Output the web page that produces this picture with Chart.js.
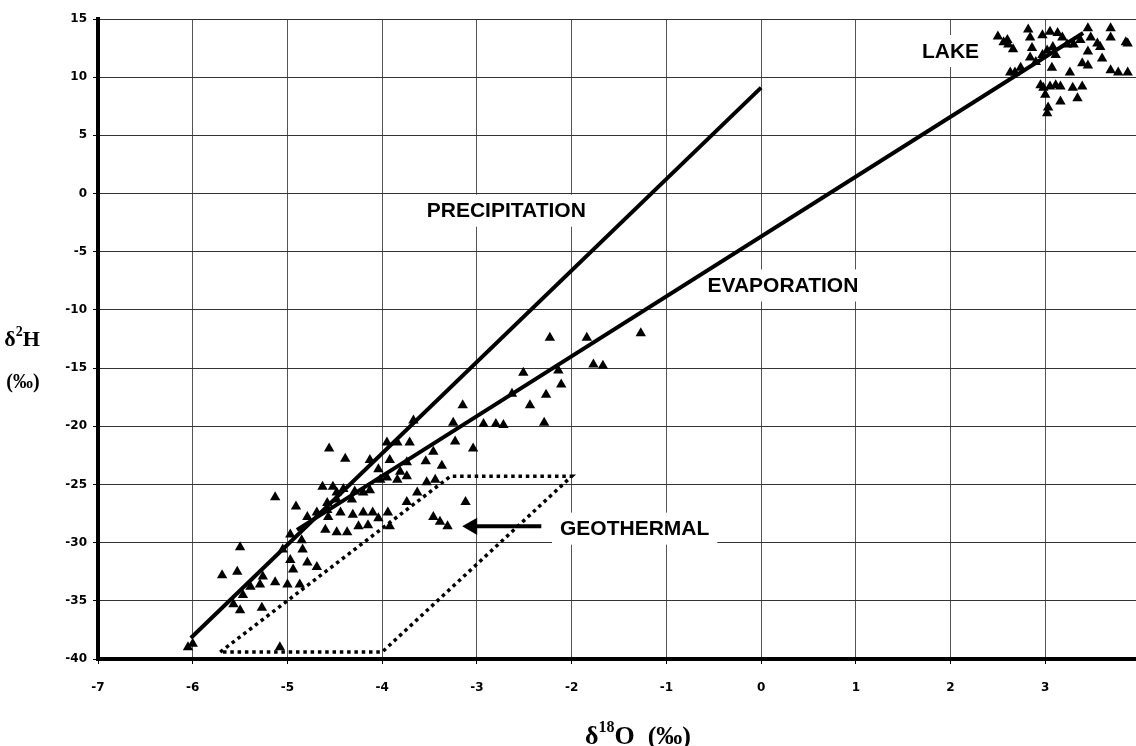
<!DOCTYPE html>
<html>
<head>
<meta charset="utf-8">
<script src="https://cdn.jsdelivr.net/npm/chart.js@4.4.1/dist/chart.umd.min.js"></script>
<style>
    html, body { margin: 0; padding: 0; background: #fff; overflow: hidden; }
    #wrap { width: 1150px; height: 746px; }
</style>
</head>
<body>
<div id="wrap"><canvas id="isotopeChart" width="1150" height="746"></canvas></div>
<script>
// groundwater / spring samples (d18O, d2H)
const sampleO18 = [
    -3.15, -3.67, -3.25, -4.56, -4.39, -3.95, -3.84, -3.71, -3.46, -3.23, -3.04, -3.54, -3.37, -3.92, -3.74,
    -3.81, -4.13, -4.04, -3.95, -4.02, -3.84, -3.74, -3.53, -3.44, -3.63, -3.74, -3.12, -4.63, -4.52, -4.41,
    -4.29, -4.20, -4.13, -4.48, -4.32, -4.79, -4.69, -4.58, -4.57, -4.44, -4.31, -4.20, -4.10, -3.94, -4.60,
    -4.48, -4.37, -4.25, -4.15, -4.04, -3.92, -3.46, -3.39, -3.31, -4.85, -5.13, -4.91, -4.58, -4.48, -4.97,
    -5.05, -4.97, -4.84, -4.94, -4.79, -4.69, -5.50, -5.53, -5.69, -5.26, -5.13, -5.39, -5.29, -5.47, -5.00,
    -4.87, -5.57, -5.50, -5.27, -6.05, -6.00, -5.08,
    -2.23, -1.84, -1.27, -2.51, -2.14, -1.77, -1.67, -2.11, -2.27, -2.63, -2.44, -2.93, -2.80, -2.72, -2.29
];
const sampleH2 = [
    -18.2, -19.5, -19.7, -21.9, -22.8, -21.4, -21.4, -21.4, -22.2, -21.3, -21.9, -23.0, -23.4, -22.9, -23.1,
    -23.9, -22.9, -23.7, -24.4, -24.6, -24.6, -24.3, -24.8, -24.6, -25.7, -26.5, -26.5, -25.2, -25.2, -25.4,
    -25.6, -25.7, -25.5, -26.3, -26.3, -27.8, -27.4, -27.2, -27.8, -27.4, -27.6, -27.4, -27.4, -27.4, -28.9,
    -29.1, -29.1, -28.6, -28.5, -27.9, -28.6, -27.8, -28.2, -28.6, -29.8, -26.1, -26.9, -26.6, -25.7, -29.3,
    -30.6, -31.5, -30.6, -32.3, -31.7, -32.1, -30.4, -32.5, -32.8, -32.9, -33.4, -33.8, -33.6, -34.5, -33.6,
    -33.6, -35.3, -35.8, -35.6, -39.0, -38.7, -39.0,
    -12.4, -12.4, -12.0, -15.4, -15.2, -14.7, -14.8, -16.4, -17.3, -17.2, -18.2, -19.8, -19.8, -19.9, -19.7
];

// lake samples
const lakeO18 = [
    2.50, 2.56, 2.61, 2.66, 2.60, 2.63, 2.68, 2.74, 2.82, 2.84, 2.86, 2.84, 2.97, 3.05, 3.13, 3.18, 3.08, 3.11,
    3.07, 3.26, 3.23, 3.30, 3.37, 3.45, 3.48, 3.55, 3.69, 3.69, 3.85, 3.87, 3.45, 3.39, 3.45, 3.60, 3.58, 3.69,
    3.77, 3.87, 2.95, 2.98, 3.05, 3.11, 3.16, 3.29, 3.39, 3.00, 3.16, 3.34, 3.03, 3.02, 2.90, 2.97, 3.02
];
const lakeH2 = [
    13.5, 13.0, 12.8, 12.4, 13.2, 10.4, 10.4, 10.8, 14.1, 13.4, 12.5, 11.7, 13.6, 13.9, 13.8, 13.4, 12.6, 11.9,
    10.8, 10.4, 12.8, 12.8, 13.2, 14.2, 13.4, 12.9, 14.2, 13.4, 13.0, 12.9, 12.2, 11.2, 11.0, 11.6, 12.6, 10.6,
    10.4, 10.4, 9.3, 9.1, 9.2, 9.3, 9.2, 9.1, 9.2, 8.5, 7.9, 8.2, 7.4, 6.9, 11.3, 11.9, 12.3
];

const precipitationO18 = [-6.02, 0];
const precipitationH2 = [-38.2, 9.1];
const evaporationO18 = [-4.9, 3.4];
const evaporationH2 = [-28.9, 13.8];
const geothermalO18 = [-5.71, -3.28, -2.0, -4.0, -5.71];
const geothermalH2 = [-39.4, -24.3, -24.3, -39.4, -39.4];
const arrowO18 = [-3.05, -2.32];
const arrowH2 = [-28.6, -28.6];

const xTicks = [-7, -6, -5, -4, -3, -2, -1, 0, 1, 2, 3, 4];
const yTicks = [-40, -35, -30, -25, -20, -15, -10, -5, 0, 5, 10, 15];

const labelTexts = ['PRECIPITATION', 'EVAPORATION', 'LAKE', 'GEOTHERMAL'];
const labelO18 = [-2.69, 0.23, 2.0, -1.335];
const labelH2 = [-1.47, -7.9, 12.25, -28.8];

const LABEL_FONT = 'bold 21px "Liberation Sans", Arial, sans-serif';
const TITLE_FONT = '"Liberation Serif", "Times New Roman", serif';

function toPoints(xs, ys) {
    return xs.map((x, i) => ({ x: x, y: ys[i] }));
}

// draws text with superscript parts, centred on cx
function drawRich(ctx, parts, cx, cy, size) {
    let total = 0;
    parts.forEach(p => {
        ctx.font = 'bold ' + (p.sup ? Math.round(size * 0.62) : size) + 'px ' + TITLE_FONT;
        p.w = ctx.measureText(p.t).width;
        total += p.w;
    });
    let x = cx - total / 2;
    ctx.textAlign = 'left';
    ctx.textBaseline = 'middle';
    parts.forEach(p => {
        ctx.font = 'bold ' + (p.sup ? Math.round(size * 0.62) : size) + 'px ' + TITLE_FONT;
        ctx.fillText(p.t, x, p.sup ? cy - size * 0.35 : cy);
        x += p.w;
    });
}

const annotationPlugin = {
    id: 'annotations',
    beforeDatasetsDraw(chart) {
        const { ctx, scales: { x, y } } = chart;
        ctx.save();
        ctx.font = LABEL_FONT;
        ctx.fillStyle = '#fff';
        labelTexts.forEach((t, i) => {
            const w = ctx.measureText(t).width;
            const px = x.getPixelForValue(labelO18[i]);
            const py = y.getPixelForValue(labelH2[i]);
            ctx.fillRect(px - w / 2 - 8, py - 16, w + 16, 32);
        });
        ctx.restore();
    },
    afterDatasetsDraw(chart) {
        const { ctx, scales: { x, y } } = chart;
        ctx.save();
        ctx.font = LABEL_FONT;
        ctx.fillStyle = '#000';
        ctx.textAlign = 'center';
        ctx.textBaseline = 'middle';
        labelTexts.forEach((t, i) => {
            ctx.fillText(t, x.getPixelForValue(labelO18[i]), y.getPixelForValue(labelH2[i]) + 1);
        });
        ctx.restore();
    },
    afterDraw(chart) {
        const ctx = chart.ctx;
        ctx.save();
        ctx.fillStyle = '#000';
        drawRich(ctx, [{ t: '\u03b4' }, { t: '2', sup: true }, { t: 'H' }], 22, 340, 22);
        drawRich(ctx, [{ t: '(\u2030)' }], 23, 383, 20);
        drawRich(ctx, [{ t: '\u03b4' }, { t: '18', sup: true }, { t: 'O  (\u2030)' }], 638, 737, 26);
        ctx.restore();
    }
};

const tickFont = { family: 'DejaVu Sans', size: 12, weight: 'bold' };

new Chart(document.getElementById('isotopeChart'), {
    type: 'scatter',
    data: {
        datasets: [
            {
                label: 'Precipitation',
                data: toPoints(precipitationO18, precipitationH2),
                showLine: true,
                borderColor: '#000',
                borderWidth: 4,
                pointRadius: 0
            },
            {
                label: 'Evaporation',
                data: toPoints(evaporationO18, evaporationH2),
                showLine: true,
                borderColor: '#000',
                borderWidth: 4,
                pointRadius: 0
            },
            {
                label: 'Geothermal',
                data: toPoints(geothermalO18, geothermalH2),
                showLine: true,
                borderColor: '#000',
                borderWidth: 3.5,
                borderDash: [3.5, 3.8],
                pointRadius: 0
            },
            {
                label: 'Arrow',
                data: toPoints(arrowO18, arrowH2),
                showLine: true,
                borderColor: '#000',
                borderWidth: 4,
                pointRadius: [10, 0],
                pointStyle: 'triangle',
                pointRotation: 270,
                pointBackgroundColor: '#000',
                pointBorderWidth: 0
            },
            {
                label: 'Samples',
                data: toPoints(sampleO18, sampleH2),
                pointStyle: 'triangle',
                pointRadius: 6,
                pointBackgroundColor: '#000',
                pointBorderWidth: 0
            },
            {
                label: 'Lake',
                data: toPoints(lakeO18, lakeH2),
                pointStyle: 'triangle',
                pointRadius: 6,
                pointBackgroundColor: '#000',
                pointBorderWidth: 0
            }
        ]
    },
    options: {
        responsive: false,
        animation: false,
        layout: { padding: { top: 19, right: 4, left: 0, bottom: 0 } },
        plugins: {
            legend: { display: false },
            tooltip: { enabled: false }
        },
        scales: {
            x: {
                type: 'linear',
                min: -7,
                max: 4,
                afterBuildTicks: (scale) => { scale.ticks = xTicks.map(v => ({ value: v })); },
                afterFit: (scale) => {
                    scale.height = 87;
                    scale.paddingLeft = 0;
                    scale.paddingRight = 0;
                },
                grid: { color: '#555', lineWidth: 1, tickLength: 5, tickColor: '#000' },
                border: { color: '#000', width: 4 },
                ticks: { color: '#000', font: tickFont, padding: 17, maxRotation: 0, autoSkip: false, callback: (v) => String(v) }
            },
            y: {
                type: 'linear',
                min: -40,
                max: 15,
                afterBuildTicks: (scale) => { scale.ticks = yTicks.map(v => ({ value: v })); },
                afterFit: (scale) => { scale.width = 98; },
                grid: { color: '#333', lineWidth: 1, tickLength: 5, tickColor: '#000' },
                border: { color: '#000', width: 4 },
                ticks: { color: '#000', font: tickFont, padding: 6, autoSkip: false, callback: (v) => String(v) }
            }
        }
    },
    plugins: [annotationPlugin]
});
</script>
</body>
</html>
